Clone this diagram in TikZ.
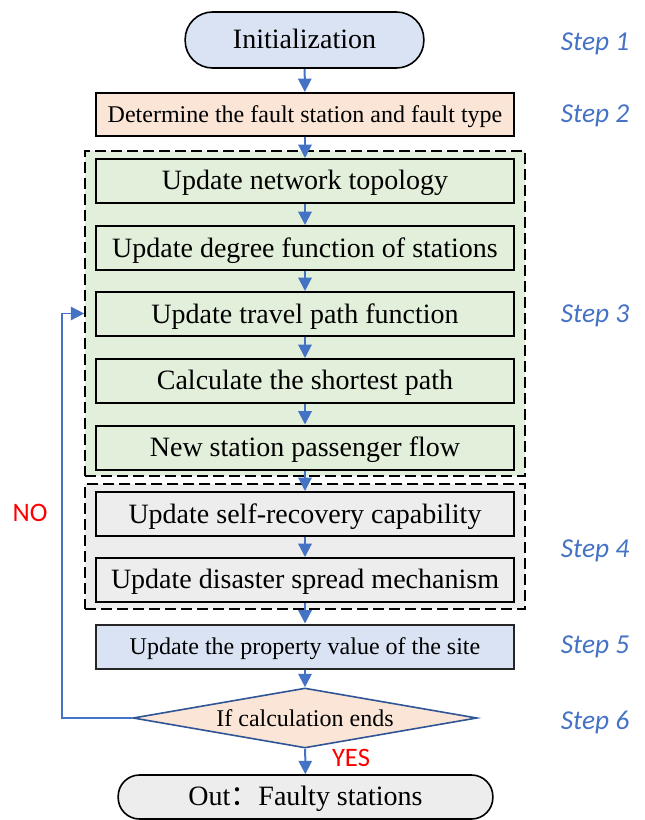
\documentclass[tikz,border=0pt]{standalone}
\usepackage{fontspec}
\setmainfont{Liberation Serif}
\newfontfamily\stepfont{Carlito}
\newfontfamily\cjk{Noto Sans CJK SC}
\usetikzlibrary{shapes.geometric,arrows.meta}

\definecolor{arrowblue}{HTML}{4472C4}
\definecolor{diamondblue}{HTML}{2F5597}
\definecolor{greenfill}{HTML}{E2EFDA}
\definecolor{grayfill}{HTML}{EDEDED}
\definecolor{peachfill}{HTML}{FBE5D6}
\definecolor{bluefill}{HTML}{DAE3F3}

\tikzset{
	procbox/.style={rectangle, draw=black, line width=1.5pt, minimum width=313.5pt, minimum height=33pt, inner sep=0pt, text depth=0.25ex, font=\fontsize{21}{24}\selectfont},
	smallbox/.style={procbox, font=\fontsize{18}{21}\selectfont},
	terminal/.style={rectangle, rounded corners=16pt, draw=black, line width=1.2pt, inner sep=0pt, text depth=0.25ex, font=\fontsize{21}{24}\selectfont},
	groupbox/.style={rectangle, draw=black, line width=1.2pt, dash pattern=on 8pt off 4pt, minimum width=330pt, inner sep=0pt},
	steplabel/.style={font=\stepfont\itshape\fontsize{20.5}{24}\selectfont, text=arrowblue},
	answer/.style={font=\stepfont\fontsize{20}{24}\selectfont, text=red},
	flow/.style={draw=arrowblue, line width=1.5pt, -{Triangle[length=10pt,width=10pt]}},
	loopline/.style={draw=arrowblue, line width=1.1pt, -{Triangle[length=10pt,width=10pt]}}
}

\begin{document}
\begin{tikzpicture}[x=0.75pt,y=-0.75pt]
		\useasboundingbox (0,0) rectangle (644,820);
		
		% dashed groups behind the boxes
		\node[groupbox, fill=greenfill, minimum height=243.75pt] (grpA) at (305,313.5) {};
		\node[groupbox, fill=grayfill, minimum height=93.75pt] (grpB) at (305,546.5) {};
		
		\node[terminal, rounded corners=20.5pt, fill=bluefill, minimum width=179pt, minimum height=42pt] (init) at (304.5,40) {Initialization};
		\node[smallbox, fill=peachfill, minimum height=32.25pt] (fault) at (305,114.5) {Determine the fault station and fault type};
		
		\node[procbox, fill=greenfill] (topo) at (305,181) {Update network topology};
		\node[procbox, fill=greenfill] (degree) at (305,248) {Update degree function of stations};
		\node[procbox, fill=greenfill] (travel) at (305,314) {Update travel path function};
		\node[procbox, fill=greenfill] (shortest) at (305,381) {Calculate the shortest path};
		\node[procbox, fill=greenfill] (pflow) at (305,447.5) {New station passenger flow};
		
		\node[procbox, fill=grayfill] (recover) at (305,514) {Update self-recovery capability};
		\node[procbox, fill=grayfill] (spread) at (305,580) {Update disaster spread mechanism};
		
		\node[smallbox, fill=bluefill, draw=black!85] (site) at (305,646.5) {Update the property value of the site};
		\node[diamond, draw=diamondblue, line width=1.2pt, fill=peachfill, aspect=5.7, inner sep=0pt, minimum width=258pt, minimum height=45pt, font=\fontsize{18}{21}\selectfont] (judge) at (305,718) {If calculation ends};
		\node[terminal, fill=grayfill, minimum width=281pt, minimum height=33pt] (out) at (305.5,797) {Out{\cjk ：}Faulty stations};
		
		% step labels
		\node[steplabel] (step1) at (595,44) {Step 1};
		\node[steplabel] (step2) at (595,116) {Step 2};
		\node[steplabel] (step3) at (595,316) {Step 3};
		\node[steplabel] (step4) at (595,551) {Step 4};
		\node[steplabel] (step5) at (595,647) {Step 5};
		\node[steplabel] (step6) at (595,722) {Step 6};
		
		\node[answer] (yes) at (351,758) {YES};
		\node[answer] (no) at (30,513) {NO};
		
		% connectors
		\draw[flow] (init) -- (fault);
		\draw[flow] (fault) -- (topo);
		\draw[flow] (topo) -- (degree);
		\draw[flow] (degree) -- (travel);
		\draw[flow] (travel) -- (shortest);
		\draw[flow] (shortest) -- (pflow);
		\draw[flow] (pflow) -- (recover);
		\draw[flow] (recover) -- (spread);
		\draw[flow] (spread) -- (site);
		\draw[flow] (site) -- (judge);
		\draw[flow] (judge) -- (out);
		\draw[loopline] (judge.west) -- ++(-70,0) |- (grpA.west);
\end{tikzpicture}
\end{document}
